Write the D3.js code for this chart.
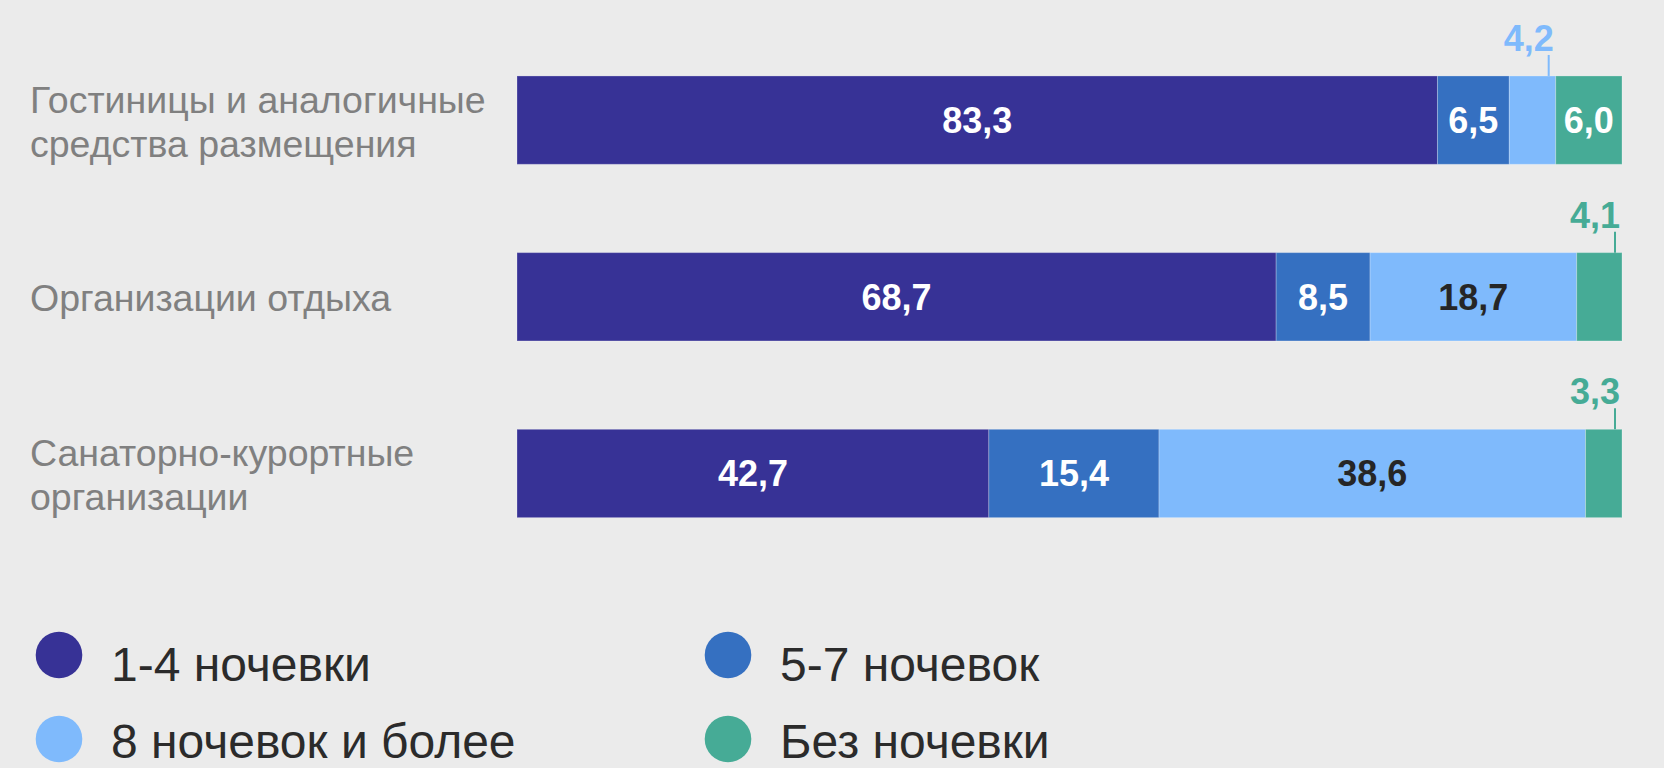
<!DOCTYPE html>
<html>
<head>
<meta charset="utf-8">
<script src="https://cdn.jsdelivr.net/npm/d3@7"></script>
<style>
    html, body { margin: 0; padding: 0; background: #ebebeb; }
    svg { display: block; font-family: "Liberation Sans", Arial, sans-serif; }
</style>
</head>
<body>
<script>

// categories (each one may break into 2 lines)
var categories = ["Гостиницы и аналогичные средства размещения", "Организации отдыха", "Санаторно-курортные организации"];
var category_lines = [["Гостиницы и аналогичные", "средства размещения"], ["Организации отдыха"], ["Санаторно-курортные", "организации"]];

var series_names = ["1-4 ночевки", "5-7 ночевок", "8 ночевок и более", "Без ночевки"];
var series_colors = ["#373296", "#3570c1", "#7fbafc", "#46ab96"];
var label_colors = ["#ffffff", "#ffffff", "#262626", "#ffffff"];

// share of each series, per category (in %)
var nights_1_4 = [83.3, 68.7, 42.7];
var nights_5_7 = [6.5, 8.5, 15.4];
var nights_8_plus = [4.2, 18.7, 38.6];
var no_nights = [6.0, 4.1, 3.3];

var width = 1664, height = 768;
var small_value = 5;  // below this the label goes above the bar

var svg = d3.select("body").append("svg")
    .attr("width", width)
    .attr("height", height);

var x = d3.scaleLinear().domain([0, 100]).range([517, 1622]);
var y = d3.scaleBand().domain(categories).range([31.8, 561.8])
    .paddingInner(0.5).paddingOuter(0.25);

// build rows for d3.stack
var rows = categories.map(function (c, i) {
    return {cat: c, s0: nights_1_4[i], s1: nights_5_7[i], s2: nights_8_plus[i], s3: no_nights[i]};
});
var keys = ["s0", "s1", "s2", "s3"];
var stacked = d3.stack().keys(keys)(rows);

var fmt = function (v) { return d3.format(".1f")(v).replace(".", ","); };

var layers = svg.selectAll("g.layer")
    .data(stacked)
    .enter().append("g")
    .attr("class", "layer")
    .attr("fill", function (d, i) { return series_colors[i]; });

layers.selectAll("rect")
    .data(function (d) { return d; })
    .enter().append("rect")
    .attr("x", function (d) { return x(d[0]); })
    .attr("y", function (d) { return y(d.data.cat); })
    .attr("width", function (d) { return x(d[1]) - x(d[0]); })
    .attr("height", y.bandwidth())
    .attr("stroke", "#ffffff")
    .attr("stroke-opacity", 0.25)
    .attr("stroke-width", 1);

// value labels
stacked.forEach(function (layer, si) {
    layer.forEach(function (d) {
        var v = d[1] - d[0];
        var top = y(d.data.cat);
        if (v >= small_value) {
            svg.append("text")
                .attr("x", (x(d[0]) + x(d[1])) / 2)
                .attr("y", top + y.bandwidth() / 2 + 13)
                .attr("text-anchor", "middle")
                .attr("font-size", 36)
                .attr("font-weight", "bold")
                .attr("fill", label_colors[si])
                .text(fmt(v));
        } else {
            // small slice: label above with a short leader line
            var lx = x(d[1]) - 7;
            svg.append("line")
                .attr("x1", lx).attr("x2", lx)
                .attr("y1", top - 21).attr("y2", top)
                .attr("stroke", series_colors[si])
                .attr("stroke-width", 2);
            svg.append("text")
                .attr("x", lx + 5)
                .attr("y", top - 25)
                .attr("text-anchor", "end")
                .attr("font-size", 36)
                .attr("font-weight", "bold")
                .attr("fill", series_colors[si])
                .text(fmt(v));
        }
    });
});

// category labels on the left
categories.forEach(function (c, i) {
    var lines = category_lines[i];
    var mid = y(c) + y.bandwidth() / 2;
    var first = lines.length === 1 ? mid + 14 : mid - 7;
    var t = svg.append("text")
        .attr("x", 30)
        .attr("font-size", 37.5)
        .attr("fill", "#808080");
    lines.forEach(function (ln, j) {
        t.append("tspan")
            .attr("x", 30)
            .attr("y", first + j * 44)
            .text(ln);
    });
});

// legend, 2 columns
var legend_x = [59, 728];
var legend_y = [655, 739];

series_names.forEach(function (name, i) {
    var cx = legend_x[i % 2], cy = legend_y[Math.floor(i / 2)];
    svg.append("circle")
        .attr("cx", cx).attr("cy", cy).attr("r", 23.3)
        .attr("fill", series_colors[i]);
    // bottom row sits tight against the page edge
    svg.append("text")
        .attr("x", cx + 52)
        .attr("y", Math.min(cy + 26, 758))
        .attr("font-size", 48)
        .attr("fill", "#2b2b2b")
        .text(name);
});

</script>
</body>
</html>
